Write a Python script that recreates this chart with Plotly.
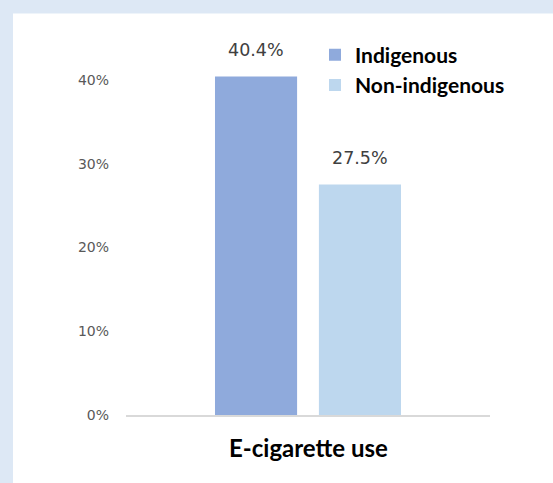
import plotly.graph_objects as go

categories = ["E-cigarette use"]
series_names = ["Indigenous", "Non-indigenous"]
indigenous = [0.404]
non_indigenous = [0.275]
colors = ["#8faadc", "#bdd7ee"]
y_ticks = [0, 0.1, 0.2, 0.3, 0.4]

W, H = 553, 483
ml, mr, mt, mb = 126, 63, 37.5, 68
pw, ph = W - ml - mr, H - mt - mb

def px_x(p):
    return (p - ml) / pw

def px_y(p):
    return (H - mb - p) / ph

fig = go.Figure()
for name, vals, col in zip(series_names, [indigenous, non_indigenous], colors):
    fig.add_trace(go.Bar(
        x=categories, y=vals, name="<b>" + name + "</b>", marker_color=col,
        marker_line_width=0, cliponaxis=False,
    ))

# data labels
for vals, xs in zip([indigenous, non_indigenous], [-52, 52]):
    for c, v in zip(categories, vals):
        fig.add_annotation(x=c, y=v, xref="x", yref="y", text=f"{v*100:.1f}%",
                           showarrow=False, xanchor="center", yanchor="middle",
                           xshift=xs, yshift=27,
                           font=dict(family="DejaVu Sans", size=17.5, color="#404040"))

fig.add_shape(type="rect", xref="paper", yref="paper",
              x0=px_x(13), x1=px_x(W + 5), y0=px_y(H + 5), y1=px_y(13),
              fillcolor="white", line_width=0, layer="below")

fig.add_annotation(text="<b>E-cigarette use</b>", xref="paper", yref="paper",
                   x=0.5, y=px_y(448), xanchor="center", yanchor="middle",
                   showarrow=False, font=dict(family="Lato", size=24, color="#000000"))

fig.update_layout(
    width=W, height=H,
    margin=dict(l=ml, r=mr, t=mt, b=mb),
    paper_bgcolor="#dde8f5", plot_bgcolor="white",
    barmode="group", bargap=0.429, bargroupgap=0.21,
    showlegend=True,
    legend=dict(x=px_x(315), y=px_y(34), xanchor="left", yanchor="top",
                bgcolor="rgba(0,0,0,0)", traceorder="normal",
                font=dict(family="Lato", size=21, color="#000000"),
                itemclick=False),
    xaxis=dict(showticklabels=False, showline=True, linecolor="#d9d9d9", linewidth=2,
               ticks="", showgrid=False, zeroline=False),
    yaxis=dict(range=[0, 0.45], tickvals=y_ticks, tickformat=".0%", showgrid=False,
               zeroline=False, showline=False, ticklabelstandoff=16,
               tickfont=dict(family="DejaVu Sans", size=14, color="#595959")),
)

fig.write_html("out.html")
